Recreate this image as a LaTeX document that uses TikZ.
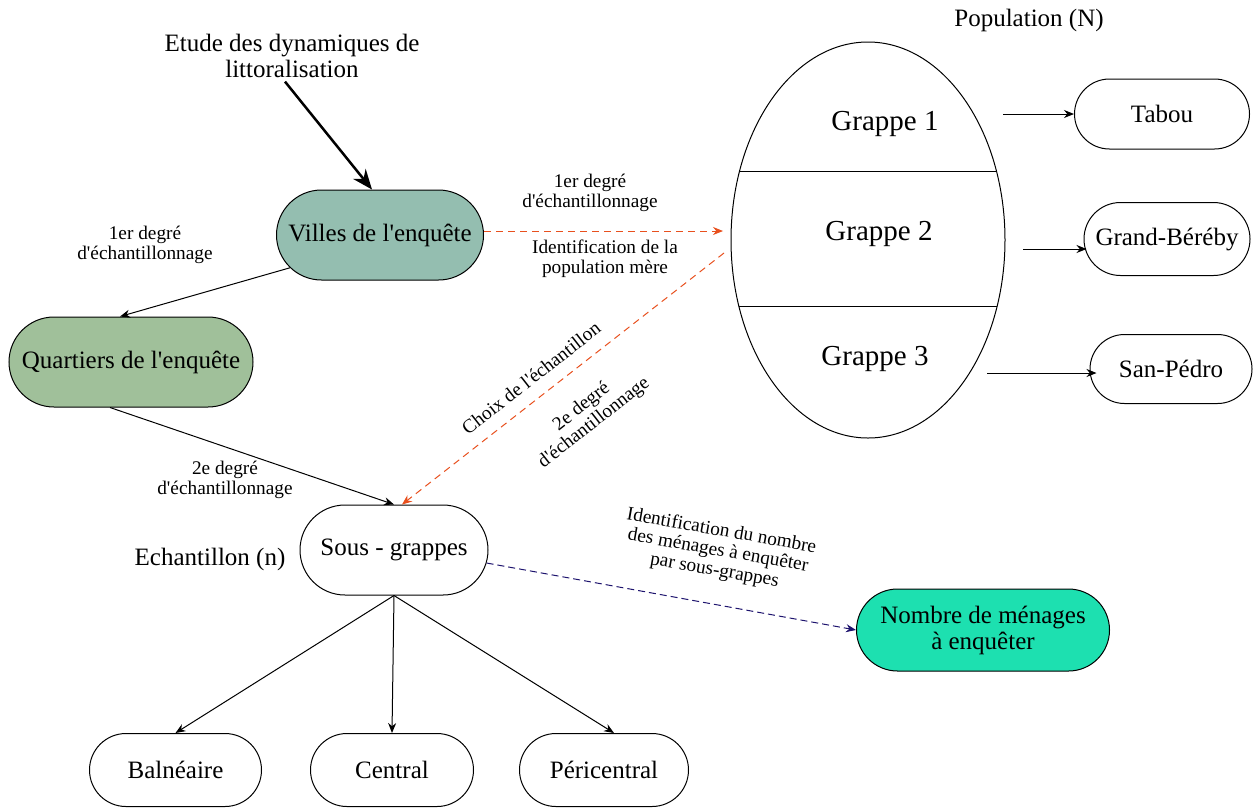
\documentclass[tikz,border=0pt]{standalone}
\usepackage{fontspec}
\setmainfont{Liberation Serif}
\usetikzlibrary{shapes.misc, shapes.geometric, positioning, arrows.meta}
\definecolor{villesgreen}{RGB}{148,190,176}
\definecolor{quartgreen}{RGB}{160,192,154}
\definecolor{menagecyan}{RGB}{29,224,176}
\definecolor{dashred}{RGB}{232,80,30}
\definecolor{dashnavy}{RGB}{30,20,110}
\newcommand{\txtbig}{\fontsize{25}{26}\selectfont}
\newcommand{\txtsmall}{\fontsize{19.3}{20}\selectfont}
\newcommand{\txtgrappe}{\fontsize{29}{30}\selectfont}
\newcommand{\q}{\textquotesingle}

\begin{document}
\begin{tikzpicture}[->, >={Stealth[length=10pt, width=8pt]}, x=1pt, y=-1pt, line width=1pt,
  pill/.style={rounded rectangle, draw, inner sep=0pt, minimum height=90pt, font=\txtbig, align=center},
  lbl/.style={align=center, font=\txtsmall},
  reddash/.style={dash pattern=on 7pt off 5pt, dashred},
  navydash/.style={dash pattern=on 7pt off 4pt, dashnavy}]
  \useasboundingbox (0,0) rectangle (1253,807);

  \node[font=\txtbig, align=center] (title) at (292,56) {Etude des dynamiques de\\littoralisation};
  \node[pill, fill=villesgreen, minimum width=207pt] (villes) at (380,235) {Villes de l\q enquête};
  \node[pill, fill=quartgreen, minimum width=244pt] (quart) at (131,362) {Quartiers de l\q enquête};
  \node[pill, minimum width=188pt] (sg) at (394,550) {Sous - grappes};
  \node[pill, minimum width=163pt, minimum height=73pt] (cen) at (392,770) {Central};
  \node[pill, minimum width=172pt, minimum height=73pt, left=48pt of cen] (bal) {Balnéaire};
  \node[pill, minimum width=169pt, minimum height=73pt, right=45pt of cen] (per) {Péricentral};
  \node[pill, fill=menagecyan, minimum width=253pt, minimum height=82pt] (nombre) at (983,630) {Nombre de ménages\\à enquêter};

  \node[ellipse, draw, minimum width=274pt, minimum height=396pt] (pop) at (868,240) {};
  \begin{scope}
    \clip (pop.center) ellipse [x radius=137, y radius=198];
    \draw[-] (720,171) -- (1020,171);
    \draw[-] (720,306) -- (1020,306);
  \end{scope}
  \node[font=\txtgrappe] (g1) at (885,124) {Grappe 1};
  \node[font=\txtgrappe] (g2) at (879,234) {Grappe 2};
  \node[font=\txtgrappe] (g3) at (875,359) {Grappe 3};
  \node[font=\txtbig] (popn) at (1029,20) {Population (N)};

  \node[pill, minimum width=175pt, minimum height=70pt] (tabou) at (1162,114) {Tabou};
  \node[pill, minimum width=166pt, minimum height=73pt] (gb) at (1167,239) {Grand-Béréby};
  \node[pill, minimum width=162pt, minimum height=69pt] (sp) at (1171,369) {San-Pédro};
  \coordinate (c1) at (1003,114);
  \coordinate (c2) at (1023,249);
  \coordinate (c3) at (987,373);
  \draw (c1) -- (c1 -| tabou.west);
  \draw (c2) -- ([xshift=3pt]c2 -| gb.west);
  \draw (c3) -- ([xshift=7pt]c3 -| sp.west);

  \node[lbl] (l1) at (145,245) {1er degré\\d\q échantillonnage};
  \node[lbl] (l2) at (590,193) {1er degré\\d\q échantillonnage};
  \node[lbl] (l3) at (605,259) {Identification de la\\population mère};
  \node[lbl] (l4) at (225,480) {2e degré\\d\q échantillonnage};
  \node[font=\txtbig] (ech) at (210,559) {Echantillon (n)};
  \node[lbl, rotate=38] (l5) at (531,378) {Choix de l\q échantillon};
  \node[lbl, rotate=38] (l6) at (588,415) {2e degré\\d\q échantillonnage};
  \node[lbl, rotate=-10] (l7) at (718,551) {Identification du nombre\\des ménages à enquêter\\par sous-grappes};

  \draw[line width=2.5pt, -{Stealth[length=20pt, width=16pt]}] ([xshift=-7pt]title.south) -- ([xshift=-8pt]villes.north);
  \draw (villes.200) -- ([xshift=-11pt]quart.north);
  \draw ([xshift=-21pt]quart.south) -- (sg.north);
  \coordinate (r1) at (723,231);
  \coordinate (r2) at (724,253);
  \draw[reddash] (villes.east |- r1) -- (r1);
  \draw[reddash] (r2) -- ([xshift=8pt]sg.north);
  \draw[navydash] (sg.-8) -- (nombre.west);
  \draw (sg.south) -- (bal.north);
  \draw (sg.south) -- (cen.north);
  \draw (sg.south) -- ([xshift=10pt]per.north);
\end{tikzpicture}
\end{document}
